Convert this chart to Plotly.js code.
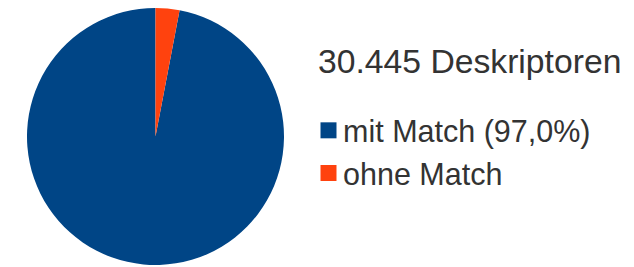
<!DOCTYPE html>
<html>
<head>
<meta charset="utf-8">
<script src="https://cdn.plot.ly/plotly-3.0.1.min.js"></script>
<style>html,body{margin:0;padding:0;background:#fff;}#chart{width:634px;height:267px;}</style>
</head>
<body>
<div id="chart"></div>
<script>
const chartTitle = "30.445 Deskriptoren";
const labels = ["mit Match (97,0%)", "ohne Match"];
const values = [97.0, 3.0];
const colors = ["#004586", "#ff420e"];

const W = 634, H = 267;
const total = values.reduce(function (a, b) { return a + b; }, 0);
const trace = {
  type: "pie",
  labels: labels,
  values: values,
  sort: false,
  direction: "clockwise",
  rotation: 360 * values[1] / total,
  marker: {colors: colors, line: {width: 0}},
  textinfo: "none",
  hoverinfo: "none",
  domain: {x: [27 / W, 284 / W], y: [2 / H, 259 / H]}
};
const layout = {
  width: W, height: H,
  margin: {l: 0, r: 0, t: 0, b: 0},
  paper_bgcolor: "#ffffff",
  font: {family: "Liberation Sans, Arial, sans-serif", color: "#333333"},
  showlegend: true,
  legend: {
    x: 303 / W, xanchor: "left",
    y: (H - 104) / H, yanchor: "top",
    font: {size: 30.5, color: "#333333"},
    bgcolor: "rgba(0,0,0,0)",
    borderwidth: 0
  },
  annotations: [{
    text: chartTitle,
    xref: "paper", yref: "paper",
    x: 316 / W, xanchor: "left",
    y: (H - 61) / H, yanchor: "middle",
    showarrow: false,
    font: {size: 33.7, color: "#333333"}
  }]
};
Plotly.newPlot("chart", [trace], layout, {displayModeBar: false, staticPlot: true}).then(function (gd) {
  gd.querySelectorAll(".legend .legendpoints path").forEach(function (p) {
    p.setAttribute("d", "M13.5,8H-2.5V-8H13.5Z");
  });
});
</script>
</body>
</html>
